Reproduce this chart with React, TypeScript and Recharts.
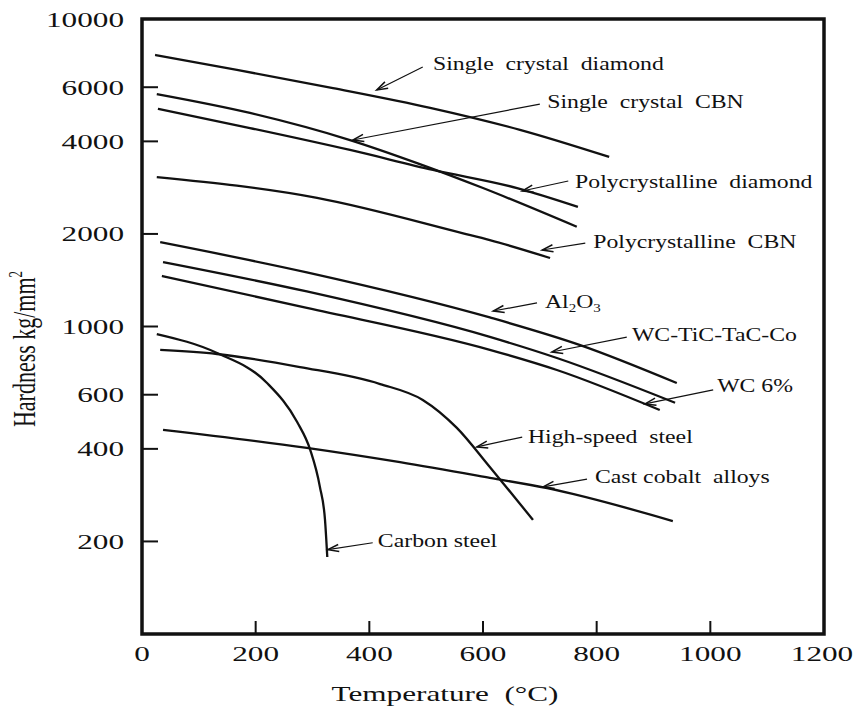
import React from 'react';
import { LineChart, Line, XAxis, YAxis, ReferenceArea, ReferenceLine, ReferenceDot } from 'recharts';

const FONT = '"Liberation Serif", "Times New Roman", serif';
const INK = '#111';

const xTicks = [0, 200, 400, 600, 800, 1000, 1200];
const yTicks = [200, 400, 600, 1000, 2000, 4000, 6000, 10000];

const singleCrystalDiamond = [
  { x: 23, y: 7640 }, { x: 167, y: 6830 }, { x: 336, y: 5960 }, { x: 507, y: 5140 }, { x: 665, y: 4360 }, { x: 822, y: 3560 },
];
const singleCrystalCBN = [
  { x: 26, y: 5700 }, { x: 190, y: 4950 }, { x: 366, y: 4040 }, { x: 484, y: 3400 }, { x: 600, y: 2820 }, { x: 765, y: 2110 },
];
const polycrystallineDiamond = [
  { x: 28, y: 5100 }, { x: 190, y: 4420 }, { x: 366, y: 3750 }, { x: 512, y: 3230 }, { x: 660, y: 2820 }, { x: 767, y: 2450 },
];
const polycrystallineCBN = [
  { x: 26, y: 3060 }, { x: 308, y: 2620 }, { x: 565, y: 2010 }, { x: 612, y: 1910 }, { x: 718, y: 1670 },
];
const aluminaAl2O3 = [
  { x: 32, y: 1880 }, { x: 290, y: 1500 }, { x: 612, y: 1070 }, { x: 771, y: 870 }, { x: 941, y: 655 },
];
const wcTicTacCo = [
  { x: 37, y: 1620 }, { x: 290, y: 1300 }, { x: 612, y: 925 }, { x: 730, y: 790 }, { x: 938, y: 565 },
];
const wc6 = [
  { x: 35, y: 1460 }, { x: 290, y: 1150 }, { x: 612, y: 840 }, { x: 730, y: 722 }, { x: 911, y: 535 },
];
const highSpeedSteel = [
  { x: 32, y: 839 }, { x: 132, y: 814 }, { x: 278, y: 738 }, { x: 419, y: 650 }, { x: 494, y: 577 },
  { x: 554, y: 468 }, { x: 612, y: 349 }, { x: 635, y: 310 }, { x: 688, y: 235 },
];
const castCobaltAlloys = [
  { x: 37, y: 461 }, { x: 290, y: 403 }, { x: 454, y: 362 }, { x: 612, y: 322 }, { x: 713, y: 298 }, { x: 934, y: 233 },
];
const carbonSteel = [
  { x: 26, y: 945 }, { x: 132, y: 820 }, { x: 220, y: 655 }, { x: 273, y: 489 }, { x: 296, y: 397 },
  { x: 313, y: 301 }, { x: 322, y: 235 }, { x: 326, y: 178 },
];

const series = [
  { name: 'Single crystal diamond', data: singleCrystalDiamond },
  { name: 'Single crystal CBN', data: singleCrystalCBN },
  { name: 'Polycrystalline diamond', data: polycrystallineDiamond },
  { name: 'Polycrystalline CBN', data: polycrystallineCBN },
  { name: 'Al2O3', data: aluminaAl2O3 },
  { name: 'WC-TiC-TaC-Co', data: wcTicTacCo },
  { name: 'WC 6%', data: wc6 },
  { name: 'High-speed steel', data: highSpeedSteel },
  { name: 'Cast cobalt alloys', data: castCobaltAlloys },
  { name: 'Carbon steel', data: carbonSteel },
];

// annotation: label start (data coords) and arrow from -> tip (data coords)
const annotations = [
  { text: 'Single  crystal  diamond', tx: 512, ty: 6826, fx: 494, fy: 6982, px: 413, py: 5875 },
  { text: 'Single  crystal  CBN', tx: 713, ty: 5135, fx: 700, fy: 5290, px: 371, py: 4041 },
  { text: 'Polycrystalline  diamond', tx: 762, ty: 2821, fx: 750, fy: 2973, px: 669, py: 2758 },
  { text: 'Polycrystalline  CBN', tx: 794, ty: 1800, fx: 780, fy: 1868, px: 704, py: 1773 },
  { text: 'AL2O3', tx: 709, ty: 1149, fx: 695, fy: 1193, px: 618, py: 1123 },
  { text: 'WC-TiC-TaC-Co', tx: 862, ty: 897, fx: 853, fy: 924, px: 721, py: 826 },
  { text: 'WC 6%', tx: 1012, ty: 612, fx: 1005, fy: 622, px: 885, py: 560 },
  { text: 'High-speed  steel', tx: 679, ty: 418, fx: 669, fy: 437, px: 589, py: 406 },
  { text: 'Cast cobalt  alloys', tx: 797, ty: 310, fx: 783, fy: 319, px: 706, py: 301 },
  { text: 'Carbon steel', tx: 415, ty: 192, fx: 406, fy: 198, px: 327, py: 188 },
];

function StretchText(props: any) {
  const { x, y, sx = 1, sy = 1, rotate = 0, size, anchor = 'start', children } = props;
  return (
    <text
      transform={`translate(${x},${y}) rotate(${rotate}) scale(${sx},${sy})`}
      x={0}
      y={0}
      fontSize={size}
      fontFamily={FONT}
      textAnchor={anchor}
      fill={INK}
      style={{ whiteSpace: 'pre' }}
    >
      {children}
    </text>
  );
}

const YTick = (props: any) => {
  const { x, y, payload } = props;
  return (
    <g>
      {payload.value < 10000 && <line x1={x} y1={y} x2={x + 16} y2={y} stroke={INK} strokeWidth={2} />}
      <StretchText x={x - 18} y={y + 7.5} sx={1.42} size={22} anchor="end">{String(payload.value)}</StretchText>
    </g>
  );
};

const XTick = (props: any) => {
  const { x, y, payload } = props;
  return (
    <g>
      {payload.value > 0 && payload.value < 1200 && (
        <line x1={x} y1={y} x2={x} y2={y - 13} stroke={INK} strokeWidth={2} />
      )}
      <StretchText x={payload.value === 1200 ? x - 2 : x} y={y + 27} sx={1.42} size={22} anchor="middle">
        {String(payload.value)}
      </StretchText>
    </g>
  );
};

const ArrowShape = (props: any) => {
  const { x1, y1, x2, y2 } = props;
  if ([x1, y1, x2, y2].some((v) => typeof v !== 'number' || isNaN(v))) return null;
  const dx = x2 - x1;
  const dy = y2 - y1;
  const len = Math.hypot(dx, dy) || 1;
  const ux = dx / len;
  const uy = dy / len;
  const hl = 11;
  const hw = 3.6;
  const bx = x2 - ux * hl;
  const by = y2 - uy * hl;
  const nx = -uy;
  const ny = ux;
  return (
    <g>
      <line x1={x1} y1={y1} x2={x2} y2={y2} stroke={INK} strokeWidth={1.2} />
      <path
        d={`M${bx + nx * hw},${by + ny * hw} L${x2},${y2} L${bx - nx * hw},${by - ny * hw}`}
        fill="none"
        stroke={INK}
        strokeWidth={1.5}
      />
    </g>
  );
};

const renderLabel = (text: string) => (p: any) => {
  const { cx, cy } = p;
  if (text === 'AL2O3') {
    return (
      <StretchText x={cx} y={cy} sx={1.25} size={19}>
        Al<tspan fontSize={12} dy={4}>2</tspan>
        <tspan dy={-4}>O</tspan>
        <tspan fontSize={12} dy={4}>3</tspan>
      </StretchText>
    );
  }
  return (
    <StretchText x={cx} y={cy} sx={1.25} size={19}>
      {text}
    </StretchText>
  );
};

export default function App() {
  return (
    <div style={{ position: 'absolute', left: 0, top: 0, background: '#fff' }}>
      <LineChart width={857} height={708} margin={{ top: 19, right: 33, left: 0, bottom: 0 }}>
        <XAxis
          dataKey="x"
          type="number"
          domain={[0, 1200]}
          ticks={xTicks}
          allowDataOverflow
          height={74}
          axisLine={false}
          tickLine={false}
          tickSize={0}
          tickMargin={0}
          interval={0}
          tick={<XTick />}
          label={{
            content: () => (
              <StretchText x={445} y={701} sx={1.42} size={22} anchor="middle">
                Temperature  (°C)
              </StretchText>
            ),
          }}
        />
        <YAxis
          type="number"
          scale="log"
          domain={[100, 10000]}
          ticks={yTicks}
          allowDataOverflow
          width={142}
          axisLine={false}
          tickLine={false}
          tickSize={0}
          tickMargin={0}
          interval={0}
          tick={<YTick />}
          label={{
            content: () => (
              <StretchText x={35} y={349} rotate={-90} sy={1.4} size={22} anchor="middle">
                Hardness kg/mm<tspan fontSize={13} dy={-9}>2</tspan>
              </StretchText>
            ),
          }}
        />
        {series.map((s) => (
          <Line
            key={s.name}
            name={s.name}
            data={s.data}
            dataKey="y"
            type="monotone"
            stroke={INK}
            strokeWidth={2.3}
            dot={false}
            activeDot={false}
            isAnimationActive={false}
          />
        ))}
        <ReferenceArea
          x1={0}
          x2={1200}
          y1={100}
          y2={10000}
          fill="none"
          fillOpacity={0}
          stroke={INK}
          strokeWidth={3.5}
          ifOverflow="visible"
        />
        {annotations.map((a) => (
          <ReferenceLine
            key={'arrow-' + a.text}
            segment={[{ x: a.fx, y: a.fy }, { x: a.px, y: a.py }]}
            shape={ArrowShape}
            ifOverflow="visible"
          />
        ))}
        {annotations.map((a) => (
          <ReferenceDot
            key={'label-' + a.text}
            x={a.tx}
            y={a.ty}
            r={1}
            ifOverflow="visible"
            shape={renderLabel(a.text)}
          />
        ))}
      </LineChart>
    </div>
  );
}
